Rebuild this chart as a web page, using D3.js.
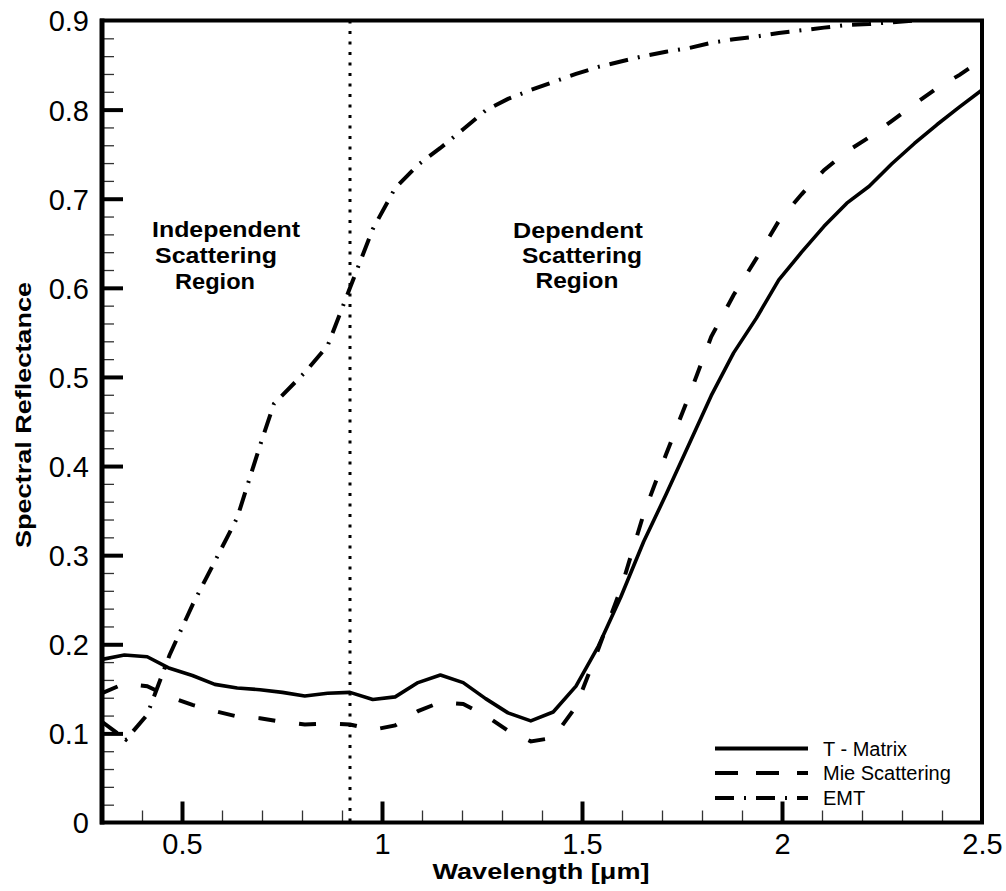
<!DOCTYPE html>
<html>
<head>
<meta charset="utf-8">
<script src="https://cdn.jsdelivr.net/npm/d3@7"></script>
<style>
  html, body { margin: 0; padding: 0; background: #fff; }
  svg { display: block; }
  text { font-family: "Liberation Sans", Arial, Helvetica, sans-serif; fill: #000; }
</style>
</head>
<body>
<svg id="chart" width="1006" height="891"></svg>
<script>
// ---- data ----
const wavelength = [0.300,0.356,0.413,0.469,0.526,0.582,0.638,0.695,0.751,0.807,0.864,0.920,0.977,1.033,1.090,1.146,1.203,1.259,1.315,1.372,1.428,1.485,1.541,1.597,1.654,1.710,1.767,1.823,1.879,1.936,1.992,2.049,2.105,2.162,2.218,2.274,2.331,2.387,2.444,2.500];
const tMatrix = [0.183,0.188,0.186,0.173,0.165,0.155,0.151,0.149,0.146,0.142,0.145,0.146,0.138,0.141,0.157,0.1655,0.157,0.139,0.123,0.114,0.124,0.153,0.198,0.253,0.315,0.368,0.424,0.479,0.527,0.566,0.609,0.640,0.669,0.695,0.714,0.739,0.762,0.783,0.803,0.822];
const mie = [0.145,0.156,0.153,0.141,0.132,0.125,0.119,0.117,0.113,0.110,0.111,0.110,0.104,0.109,0.125,0.135,0.133,0.120,0.103,0.091,0.095,0.130,0.195,0.262,0.346,0.413,0.478,0.545,0.592,0.633,0.675,0.705,0.732,0.753,0.769,0.787,0.806,0.824,0.839,0.856];
const emtWavelength = [0.300,0.360,0.413,0.469,0.526,0.582,0.638,0.695,0.730,0.807,0.864,0.920,0.977,1.033,1.090,1.146,1.203,1.259,1.315,1.372,1.428,1.485,1.541,1.597,1.654,1.710,1.767,1.823,1.879,1.936,1.992,2.049,2.105,2.162,2.218,2.274,2.331];
const emt = [0.113,0.093,0.121,0.188,0.244,0.293,0.342,0.423,0.470,0.505,0.535,0.600,0.666,0.712,0.738,0.757,0.778,0.799,0.812,0.822,0.831,0.840,0.848,0.854,0.860,0.865,0.869,0.875,0.879,0.882,0.886,0.889,0.892,0.895,0.896,0.898,0.900];
const boundaryWavelength = 0.92;
const xTicks = [0.5, 1, 1.5, 2, 2.5];
const xTickLabels = ["0.5", "1", "1.5", "2", "2.5"];
const yTicks = [0, 0.1, 0.2, 0.3, 0.4, 0.5, 0.6, 0.7, 0.8, 0.9];
const yTickLabels = ["0", "0.1", "0.2", "0.3", "0.4", "0.5", "0.6", "0.7", "0.8", "0.9"];
const seriesNames = ["T - Matrix", "Mie Scattering", "EMT"];

// ---- layout ----
const L = 102, R = 982, T = 20.5, B = 822.5;
const svg = d3.select("#chart");
const x = d3.scaleLinear().domain([0.3, 2.5]).range([L, R]);
const y = d3.scaleLinear().domain([0, 0.9]).range([B, T]);

svg.append("defs").append("clipPath").attr("id", "clip")
  .append("rect").attr("x", L).attr("y", T).attr("width", R - L).attr("height", B - T);

// minor ticks
const xMinor = d3.range(0.4, 2.5, 0.1).filter(v => Math.abs(v * 2 - Math.round(v * 2)) > 1e-6);
const yMinor = d3.range(0.02, 0.9, 0.02).filter(v => Math.abs(v * 10 - Math.round(v * 10)) > 1e-6);

const xAxisMinor = d3.axisBottom(x).tickValues(xMinor).tickSizeInner(-12).tickSizeOuter(0).tickFormat("");
const yAxisMinor = d3.axisLeft(y).tickValues(yMinor).tickSizeInner(-12).tickSizeOuter(0).tickFormat("");
const gxm = svg.append("g").attr("transform", `translate(0,${B})`).call(xAxisMinor);
const gym = svg.append("g").attr("transform", `translate(${L},0)`).call(yAxisMinor);
[gxm, gym].forEach(g => {
  g.select(".domain").remove();
  g.selectAll(".tick line").attr("stroke", "#333").attr("stroke-width", 1.3);
});

// major ticks
const xAxis = d3.axisBottom(x).tickValues(xTicks).tickSizeInner(-21).tickSizeOuter(0)
  .tickFormat((d, i) => xTickLabels[i]).tickPadding(0);
const yAxis = d3.axisLeft(y).tickValues(yTicks).tickSizeInner(-21).tickSizeOuter(0)
  .tickFormat((d, i) => yTickLabels[i]).tickPadding(0);
const gx = svg.append("g").attr("transform", `translate(0,${B})`).call(xAxis);
const gy = svg.append("g").attr("transform", `translate(${L},0)`).call(yAxis);
[gx, gy].forEach(g => {
  g.select(".domain").remove();
  g.selectAll(".tick line").attr("stroke", "#000").attr("stroke-width", 4);
  g.selectAll(".tick text").attr("font-family", "Liberation Sans, Arial, sans-serif")
    .attr("font-size", 29).attr("fill", "#000");
});
gx.selectAll(".tick text").attr("y", 11).attr("dy", "0.71em");
gy.selectAll(".tick text").attr("x", -13).attr("dy", "0.36em");
gx.selectAll(".tick").filter(d => d === 2.5).select("line").remove();
gy.selectAll(".tick").filter(d => d === 0 || d === 0.9).select("line").remove();

// series
const plot = svg.append("g").attr("clip-path", "url(#clip)");
const line = d3.line().x(d => x(d[0])).y(d => y(d[1]));

plot.append("path").datum(wavelength.map((w, i) => [w, tMatrix[i]]))
  .attr("d", line).attr("fill", "none").attr("stroke", "#000").attr("stroke-width", 3.6)
  .attr("stroke-linejoin", "round");
plot.append("path").datum(wavelength.map((w, i) => [w, mie[i]]))
  .attr("d", line).attr("fill", "none").attr("stroke", "#000").attr("stroke-width", 4)
  .attr("stroke-dasharray", "17,24");
plot.append("path").datum(emtWavelength.map((w, i) => [w, emt[i]]))
  .attr("d", line).attr("fill", "none").attr("stroke", "#000").attr("stroke-width", 4)
  .attr("stroke-dasharray", "19,10,2,10");

// boundary dotted line
svg.append("line")
  .attr("x1", x(boundaryWavelength)).attr("x2", x(boundaryWavelength))
  .attr("y1", y(0.9)).attr("y2", y(0))
  .attr("stroke", "#000").attr("stroke-width", 3).attr("stroke-dasharray", "3,7.5");

// frame
svg.append("rect").attr("x", L).attr("y", T).attr("width", R - L).attr("height", B - T)
  .attr("fill", "none").attr("stroke", "#000").attr("stroke-width", 4);
svg.append("line").attr("x1", L).attr("x2", L).attr("y1", T - 2).attr("y2", B + 2)
  .attr("stroke", "#000").attr("stroke-width", 5);

// axis titles
svg.append("text").attr("x", (L + R) / 2 - 1).attr("y", 879).attr("text-anchor", "middle")
  .attr("font-weight", "bold").attr("font-size", 21.5)
  .attr("textLength", 217).attr("lengthAdjust", "spacingAndGlyphs")
  .text("Wavelength [μm]");
svg.append("text").attr("transform", "translate(31,415) rotate(-90)").attr("text-anchor", "middle")
  .attr("font-weight", "bold").attr("font-size", 21.5)
  .attr("textLength", 266).attr("lengthAdjust", "spacingAndGlyphs")
  .text("Spectral Reflectance");

// region annotations
const regionLines = [
  { t: "Independent", cx: 226, y: 237, w: 148 },
  { t: "Scattering", cx: 216, y: 263, w: 122 },
  { t: "Region", cx: 215, y: 289, w: 80 },
  { t: "Dependent", cx: 578, y: 238, w: 130 },
  { t: "Scattering", cx: 582, y: 263, w: 120 },
  { t: "Region", cx: 577, y: 288, w: 83 }
];
svg.selectAll("text.region").data(regionLines).join("text").attr("class", "region")
  .attr("x", d => d.cx).attr("y", d => d.y).attr("text-anchor", "middle")
  .attr("font-weight", "bold").attr("font-size", 22.5)
  .attr("textLength", d => d.w).attr("lengthAdjust", "spacingAndGlyphs")
  .text(d => d.t);

// legend
const legendDash = ["none", "23,18", "19,10,2,10"];
const legendY = [748.5, 773, 798];
const lg = svg.append("g");
seriesNames.forEach((name, i) => {
  lg.append("line").attr("x1", 715).attr("x2", 808).attr("y1", legendY[i]).attr("y2", legendY[i])
    .attr("stroke", "#000").attr("stroke-width", 4).attr("stroke-dasharray", legendDash[i]);
  lg.append("text").attr("x", 823).attr("y", legendY[i] + 7).attr("font-size", 20).text(name);
});
</script>
</body>
</html>
